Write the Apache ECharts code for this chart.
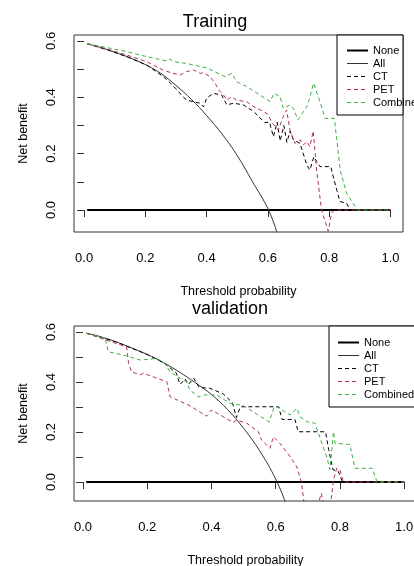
<!DOCTYPE html>
<html>
<head>
<meta charset="utf-8">
<script src="https://cdn.jsdelivr.net/npm/echarts@6/dist/echarts.min.js"></script>
<style>
  html, body { margin: 0; padding: 0; background: #fff; }
  #chart { width: 414px; height: 566px; }
</style>
</head>
<body>
<div id="chart"></div>
<script>
// axis ticks / labels
const xTicks = [0, 0.2, 0.4, 0.6, 0.8, 1.0]
const yTicks = [0, 0.1, 0.2, 0.3, 0.4, 0.5, 0.6]
const yLabels = [0, 0.2, 0.4, 0.6]
const seriesNames = ['None', 'All', 'CT', 'PET', 'Combined']

// Training: [threshold, net benefit]
const trainNone = [[0.01, 0], [1.0, 0]]
const trainAll = [[0.01, 0.590], [0.05, 0.578], [0.10, 0.560], [0.15, 0.540], [0.20, 0.516], [0.25, 0.485], [0.30, 0.442], [0.35, 0.393], [0.40, 0.335], [0.45, 0.270], [0.50, 0.193], [0.55, 0.100], [0.60, 0.005], [0.63, -0.080]]
const trainCT = [[0.01, 0.590], [0.085, 0.565], [0.139, 0.544], [0.205, 0.514], [0.259, 0.473], [0.28, 0.452], [0.30, 0.430], [0.32, 0.405], [0.335, 0.390], [0.357, 0.384], [0.379, 0.379], [0.39, 0.366], [0.40, 0.397], [0.422, 0.414], [0.449, 0.408], [0.466, 0.373], [0.488, 0.379], [0.52, 0.373], [0.553, 0.350], [0.59, 0.310], [0.605, 0.312], [0.618, 0.260], [0.63, 0.312], [0.64, 0.245], [0.652, 0.300], [0.662, 0.240], [0.672, 0.280], [0.683, 0.250], [0.705, 0.236], [0.727, 0.160], [0.737, 0.142], [0.75, 0.189], [0.77, 0.154], [0.805, 0.154], [0.825, 0.070], [0.835, 0.030], [0.857, 0.024], [0.868, 0], [1.0, 0]]
const trainPET = [[0.01, 0.590], [0.085, 0.568], [0.139, 0.550], [0.205, 0.526], [0.259, 0.496], [0.29, 0.485], [0.313, 0.479], [0.335, 0.491], [0.357, 0.497], [0.379, 0.485], [0.39, 0.487], [0.411, 0.473], [0.428, 0.449], [0.44, 0.425], [0.455, 0.408], [0.466, 0.390], [0.482, 0.402], [0.498, 0.390], [0.531, 0.384], [0.553, 0.367], [0.585, 0.350], [0.60, 0.340], [0.613, 0.310], [0.634, 0.284], [0.65, 0.331], [0.661, 0.355], [0.672, 0.284], [0.688, 0.237], [0.705, 0.249], [0.716, 0.231], [0.727, 0.243], [0.737, 0.225], [0.748, 0.280], [0.759, 0.142], [0.775, 0], [0.797, -0.075], [0.808, -0.010], [0.819, 0], [1.0, 0]]
const trainCombined = [[0.01, 0.590], [0.085, 0.574], [0.139, 0.562], [0.205, 0.544], [0.27, 0.529], [0.281, 0.535], [0.29, 0.527], [0.335, 0.520], [0.379, 0.509], [0.40, 0.505], [0.46, 0.473], [0.482, 0.485], [0.498, 0.455], [0.531, 0.438], [0.574, 0.408], [0.607, 0.385], [0.62, 0.414], [0.64, 0.402], [0.65, 0.361], [0.661, 0.367], [0.672, 0.373], [0.683, 0.361], [0.698, 0.320], [0.727, 0.367], [0.733, 0.385], [0.749, 0.450], [0.77, 0.384], [0.787, 0.325], [0.817, 0.325], [0.836, 0.142], [0.857, 0.059], [0.885, 0.012], [0.89, 0], [1.0, 0]]

// validation
const valNone = [[0.01, 0], [1.0, 0]]
const valAll = [[0.01, 0.595], [0.05, 0.583], [0.10, 0.562], [0.15, 0.537], [0.20, 0.510], [0.25, 0.478], [0.30, 0.440], [0.35, 0.397], [0.40, 0.350], [0.45, 0.290], [0.50, 0.215], [0.55, 0.125], [0.60, 0.012], [0.63, -0.080]]
const valCT = [[0.01, 0.595], [0.10, 0.562], [0.20, 0.510], [0.25, 0.478], [0.29, 0.437], [0.302, 0.390], [0.318, 0.412], [0.328, 0.390], [0.345, 0.415], [0.362, 0.378], [0.395, 0.375], [0.437, 0.352], [0.465, 0.318], [0.478, 0.258], [0.49, 0.301], [0.609, 0.301], [0.62, 0.250], [0.66, 0.250], [0.67, 0.201], [0.755, 0.201], [0.765, 0.130], [0.778, 0.050], [0.795, 0.042], [0.808, 0], [1.0, 0]]
const valPET = [[0.01, 0.595], [0.136, 0.540], [0.142, 0.475], [0.151, 0.441], [0.178, 0.428], [0.188, 0.435], [0.261, 0.401], [0.271, 0.341], [0.333, 0.305], [0.385, 0.263], [0.40, 0.288], [0.437, 0.261], [0.468, 0.238], [0.478, 0.248], [0.51, 0.235], [0.546, 0.201], [0.556, 0.168], [0.582, 0.135], [0.593, 0.181], [0.613, 0.155], [0.645, 0.101], [0.666, 0.060], [0.68, 0], [0.69, -0.100], [0.73, -0.100], [0.742, -0.045], [0.752, -0.100], [0.77, -0.100], [0.78, 0.008], [0.79, 0.055], [0.80, 0.048], [0.811, 0], [1.0, 0]]
const valCombined = [[0.01, 0.595], [0.069, 0.575], [0.079, 0.521], [0.136, 0.504], [0.178, 0.488], [0.209, 0.491], [0.229, 0.495], [0.255, 0.475], [0.271, 0.441], [0.302, 0.415], [0.323, 0.401], [0.333, 0.368], [0.359, 0.341], [0.38, 0.348], [0.395, 0.350], [0.416, 0.348], [0.458, 0.315], [0.50, 0.305], [0.58, 0.240], [0.595, 0.300], [0.61, 0.300], [0.62, 0.288], [0.645, 0.268], [0.666, 0.295], [0.676, 0.261], [0.697, 0.241], [0.723, 0.235], [0.733, 0.195], [0.759, 0.100], [0.769, 0.050], [0.775, 0.048], [0.78, 0.201], [0.785, 0.155], [0.831, 0.150], [0.847, 0.055], [0.90, 0.055], [0.916, 0], [1.0, 0]]

const FONT = 'Liberation Sans, Arial, sans-serif'

const lineStyles = {
  None: { color: '#000000', width: 2, type: 'solid' },
  All: { color: '#333333', width: 1, type: 'solid' },
  CT: { color: '#000000', width: 1, type: [4, 3] },
  PET: { color: '#b03060', width: 1, type: [4, 3] },
  Combined: { color: '#3cb043', width: 1, type: [4, 3] },
}

function lineSeries(name, data, idx) {
  const s = lineStyles[name]
  return {
    type: 'line',
    name: name,
    data: data,
    xAxisIndex: idx,
    yAxisIndex: idx,
    symbol: 'none',
    smooth: name === 'All' ? 0.4 : false,
    clip: true,
    silent: true,
    lineStyle: { color: s.color, width: s.width, type: s.type },
    itemStyle: { color: s.color },
    emphasis: { disabled: true },
  }
}

function xAxisFor(idx, min, max) {
  return {
    type: 'value',
    gridIndex: idx,
    min: min,
    max: max,
    name: 'Threshold probability',
    nameLocation: 'middle',
    nameGap: 53,
    nameTextStyle: { fontFamily: FONT, fontSize: 12.5, color: '#000' },
    axisLine: { show: false },
    splitLine: { show: false },
    axisTick: { show: true, customValues: xTicks, length: 7, lineStyle: { color: '#333' } },
    axisLabel: {
      customValues: xTicks,
      margin: 20,
      fontFamily: FONT,
      fontSize: 13,
      color: '#000',
      formatter: (v) => v.toFixed(1),
    },
  }
}

function yAxisFor(idx, min, max) {
  return {
    type: 'value',
    gridIndex: idx,
    min: min,
    max: max,
    name: 'Net benefit',
    nameLocation: 'middle',
    nameRotate: 90,
    nameGap: 44,
    nameTextStyle: { fontFamily: FONT, fontSize: 12.5, color: '#000' },
    axisLine: { show: false },
    splitLine: { show: false },
    axisTick: { show: true, customValues: yTicks, length: 7, lineStyle: { color: '#333' } },
    axisLabel: {
      customValues: yLabels,
      rotate: 90,
      margin: 16,
      fontFamily: FONT,
      fontSize: 13,
      color: '#000',
      formatter: (v) => v.toFixed(1),
    },
  }
}

// legend icons: line only (hide the marker), same stroke as the series
// rows are 13px so the 1px icon lines land on whole pixels
function legendFor(left, top, padding) {
  return {
    data: seriesNames.map((n) => ({
      name: n,
      lineStyle: { color: lineStyles[n].color, width: lineStyles[n].width, type: lineStyles[n].type },
    })),
    orient: 'vertical',
    left: left,
    top: top,
    padding: padding,
    itemWidth: 21,
    itemHeight: 13,
    itemGap: 0,
    selectedMode: false,
    z: 6,
    itemStyle: { opacity: 0 },
    textStyle: { fontFamily: FONT, fontSize: 11, lineHeight: 13, color: '#000' },
  }
}

const chart = echarts.init(document.getElementById('chart'), null, { renderer: 'canvas' })

const option = {
  animation: false,
  backgroundColor: '#ffffff',
  grid: [
    { left: 74, top: 35, width: 329, height: 197, show: true, borderColor: '#333', borderWidth: 1, backgroundColor: 'transparent', containLabel: false, outerBoundsMode: 'none' },
    { left: 74, top: 326, width: 343, height: 175, show: true, borderColor: '#333', borderWidth: 1, backgroundColor: 'transparent', containLabel: false, outerBoundsMode: 'none' },
  ],
  xAxis: [xAxisFor(0, -0.033, 1.041), xAxisFor(1, -0.028, 1.04)],
  yAxis: [yAxisFor(0, -0.078, 0.621), yAxisFor(1, -0.076, 0.624)],
  legend: [legendFor(337, 35, [9, 0, 0, 9]), legendFor(329, 326, [10, 0, 0, 8])],
  graphic: [
    { type: 'text', x: 215, y: 22, z: 10, style: { text: 'Training', font: '18px ' + FONT, fill: '#000', align: 'center', verticalAlign: 'middle' } },
    { type: 'text', x: 230, y: 309, z: 10, style: { text: 'validation', font: '18px ' + FONT, fill: '#000', align: 'center', verticalAlign: 'middle' } },
    { type: 'rect', z: 5, shape: { x: 337, y: 35, width: 66, height: 80 }, style: { fill: '#fff', stroke: '#000', lineWidth: 1 } },
    { type: 'rect', z: 5, shape: { x: 329, y: 326, width: 90, height: 81 }, style: { fill: '#fff', stroke: '#000', lineWidth: 1 } },
  ],
  series: [
    lineSeries('None', trainNone, 0),
    lineSeries('All', trainAll, 0),
    lineSeries('CT', trainCT, 0),
    lineSeries('PET', trainPET, 0),
    lineSeries('Combined', trainCombined, 0),
    lineSeries('None', valNone, 1),
    lineSeries('All', valAll, 1),
    lineSeries('CT', valCT, 1),
    lineSeries('PET', valPET, 1),
    lineSeries('Combined', valCombined, 1),
  ],
}

chart.setOption(option)
</script>
</body>
</html>
